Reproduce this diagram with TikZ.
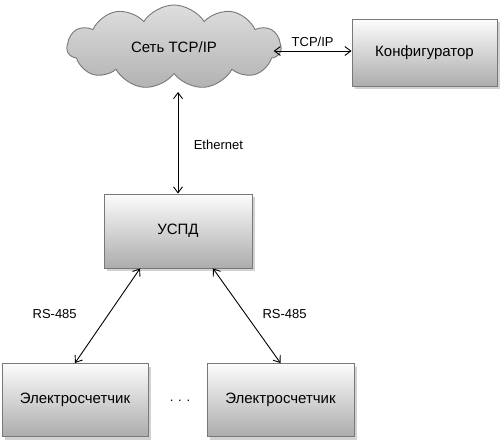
\documentclass[tikz,border=0pt]{standalone}
\usepackage{fontspec}
\setmainfont{Liberation Sans}
\usetikzlibrary{arrows.meta,positioning,shapes.symbols,shadows,calc}
\definecolor{boxedge}{RGB}{120,120,120}
\definecolor{boxtop}{RGB}{252,252,252}
\definecolor{boxmid}{RGB}{222,222,222}
\definecolor{boxbottom}{RGB}{172,172,172}
\definecolor{cloudtop}{RGB}{222,222,222}
\definecolor{cloudbottom}{RGB}{178,178,178}

\tikzset{
  unit/.style={draw=boxedge, line width=0.9pt, top color=boxtop, middle color=boxmid,
    bottom color=boxbottom, minimum width=146pt, minimum height=73pt, inner sep=0pt,
    font=\fontsize{15}{17}\selectfont,
    drop shadow={shadow xshift=3pt, shadow yshift=-3pt, fill=black!25, opacity=.7}},
  net/.style={cloud, cloud puffs=11, cloud puff arc=115, aspect=2.6, draw=boxedge,
    line width=0.9pt, top color=cloudtop, bottom color=cloudbottom,
    minimum width=214pt, minimum height=84pt, inner sep=0pt, font=\fontsize{15}{17}\selectfont},
  link/.style={{Straight Barb[length=6pt,width=9pt]}-{Straight Barb[length=6pt,width=9pt]}, line width=0.9pt},
  tag/.style={font=\fontsize{13}{15}\selectfont}
}

\begin{document}
\begin{tikzpicture}[x=1pt,y=-1pt]
    \useasboundingbox (0,0) rectangle (503,446);
    % network and configurator
    \node[net] (tcpip) at (174,47) {Сеть TCP/IP};
    \node[unit, minimum width=145pt, minimum height=67pt] (config) at (424.5,53) {Конфигуратор};
    % data collector and meters
    \node[unit, minimum width=148pt, minimum height=74pt] (uspd) at (178,231) {УСПД};
    \node[unit] (meterA) at (75,400) {Электросчетчик};
    \node[unit, minimum width=147pt] (meterB) at (280.5,400) {Электросчетчик};
    \node[font=\fontsize{13}{15}\selectfont] (dots) at (180,401) {. . .};

    \coordinate (cloudB) at ($(tcpip.center)+(0,45)$);
    \coordinate (portA) at ($(uspd.south west)!0.245!(uspd.south east)$);
    \coordinate (portB) at ($(uspd.south west)!0.735!(uspd.south east)$);

    \draw[link] (tcpip.east |- config.west) ++(-8,-2) coordinate (cloudR) -- (config.west |- cloudR)
      node[tag, midway, above=1pt] (lblTcp) {TCP/IP};
    \draw[link] (uspd.north |- cloudB) -- (uspd.north)
      node[tag, pos=0.52, right=12pt] (lblEth) {Ethernet};
    \draw[link] (portA) -- (meterA.north)
      node[tag, pos=0.485, left=28pt] (lblRsA) {RS-485};
    \draw[link] (portB) -- (meterB.north)
      node[tag, pos=0.485, right=13pt] (lblRsB) {RS-485};
\end{tikzpicture}
\end{document}
